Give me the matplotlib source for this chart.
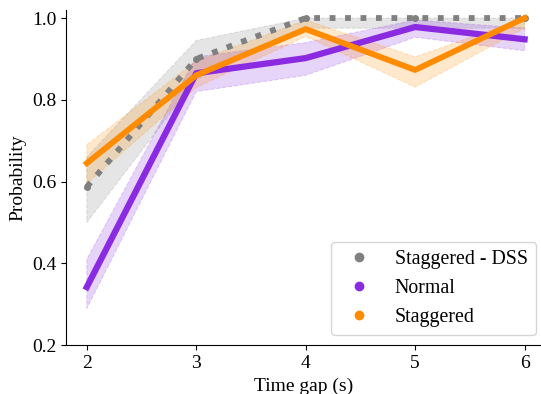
import numpy as np
import matplotlib.pyplot as plt
from matplotlib.lines import Line2D

plt.rcParams['font.family'] = ['Liberation Serif', 'DejaVu Serif']

time_gap = [2, 3, 4, 5, 6]

# mean probability per condition
dss_mean = [0.587, 0.90, 1.0, 1.0, 1.0]
dss_low = [0.50, 0.85, 0.975, 0.975, 0.975]
dss_high = [0.66, 0.945, 1.0, 1.0, 1.0]

normal_mean = [0.342, 0.865, 0.902, 0.978, 0.948]
normal_low = [0.29, 0.82, 0.86, 0.953, 0.92]
normal_high = [0.41, 0.905, 0.94, 0.995, 0.975]

stag_mean = [0.645, 0.86, 0.973, 0.873, 1.0]
stag_low = [0.595, 0.83, 0.955, 0.831, 0.975]
stag_high = [0.69, 0.895, 0.995, 0.905, 1.0]

labels = ['Staggered - DSS', 'Normal', 'Staggered']
colors = ['#808080', '#8a2be2', '#ff8c00']

fig = plt.figure(figsize=(5.41, 3.94), dpi=100)
ax = fig.add_axes([0.122, 0.124, 0.878, 0.851])

series = [(dss_mean, dss_low, dss_high), (normal_mean, normal_low, normal_high),
          (stag_mean, stag_low, stag_high)]
styles = [':', '-', '-']
widths = [4.2, 4.5, 4.2]

for (m, lo, hi), c, ls, lw in zip(series, colors, styles, widths):
    ax.fill_between(time_gap, lo, hi, color=c, alpha=0.2, linestyle='--', linewidth=0.8)
    ax.plot(time_gap, m, color=c, linestyle=ls, linewidth=lw)
ax.plot(time_gap, dss_mean, 'o', color=colors[0], markersize=4, zorder=1)

ax.set_xlim(1.81, 6.15)
ax.set_ylim(0.2, 1.02)
ax.set_xticks(time_gap)
ax.set_yticks([0.2, 0.4, 0.6, 0.8, 1.0])
ax.tick_params(labelsize=14)
ax.set_xlabel('Time gap (s)', fontsize=14)
ax.set_ylabel('Probability', fontsize=14)
ax.spines['top'].set_visible(False)
ax.spines['right'].set_visible(False)

handles = [Line2D([], [], marker='o', linestyle='none', color=c, markersize=6) for c in colors]
ax.legend(handles, labels, loc='lower right', fontsize=14.3,
          bbox_to_anchor=(1.01, 0.0))

fig.savefig('out.png', dpi=100)
